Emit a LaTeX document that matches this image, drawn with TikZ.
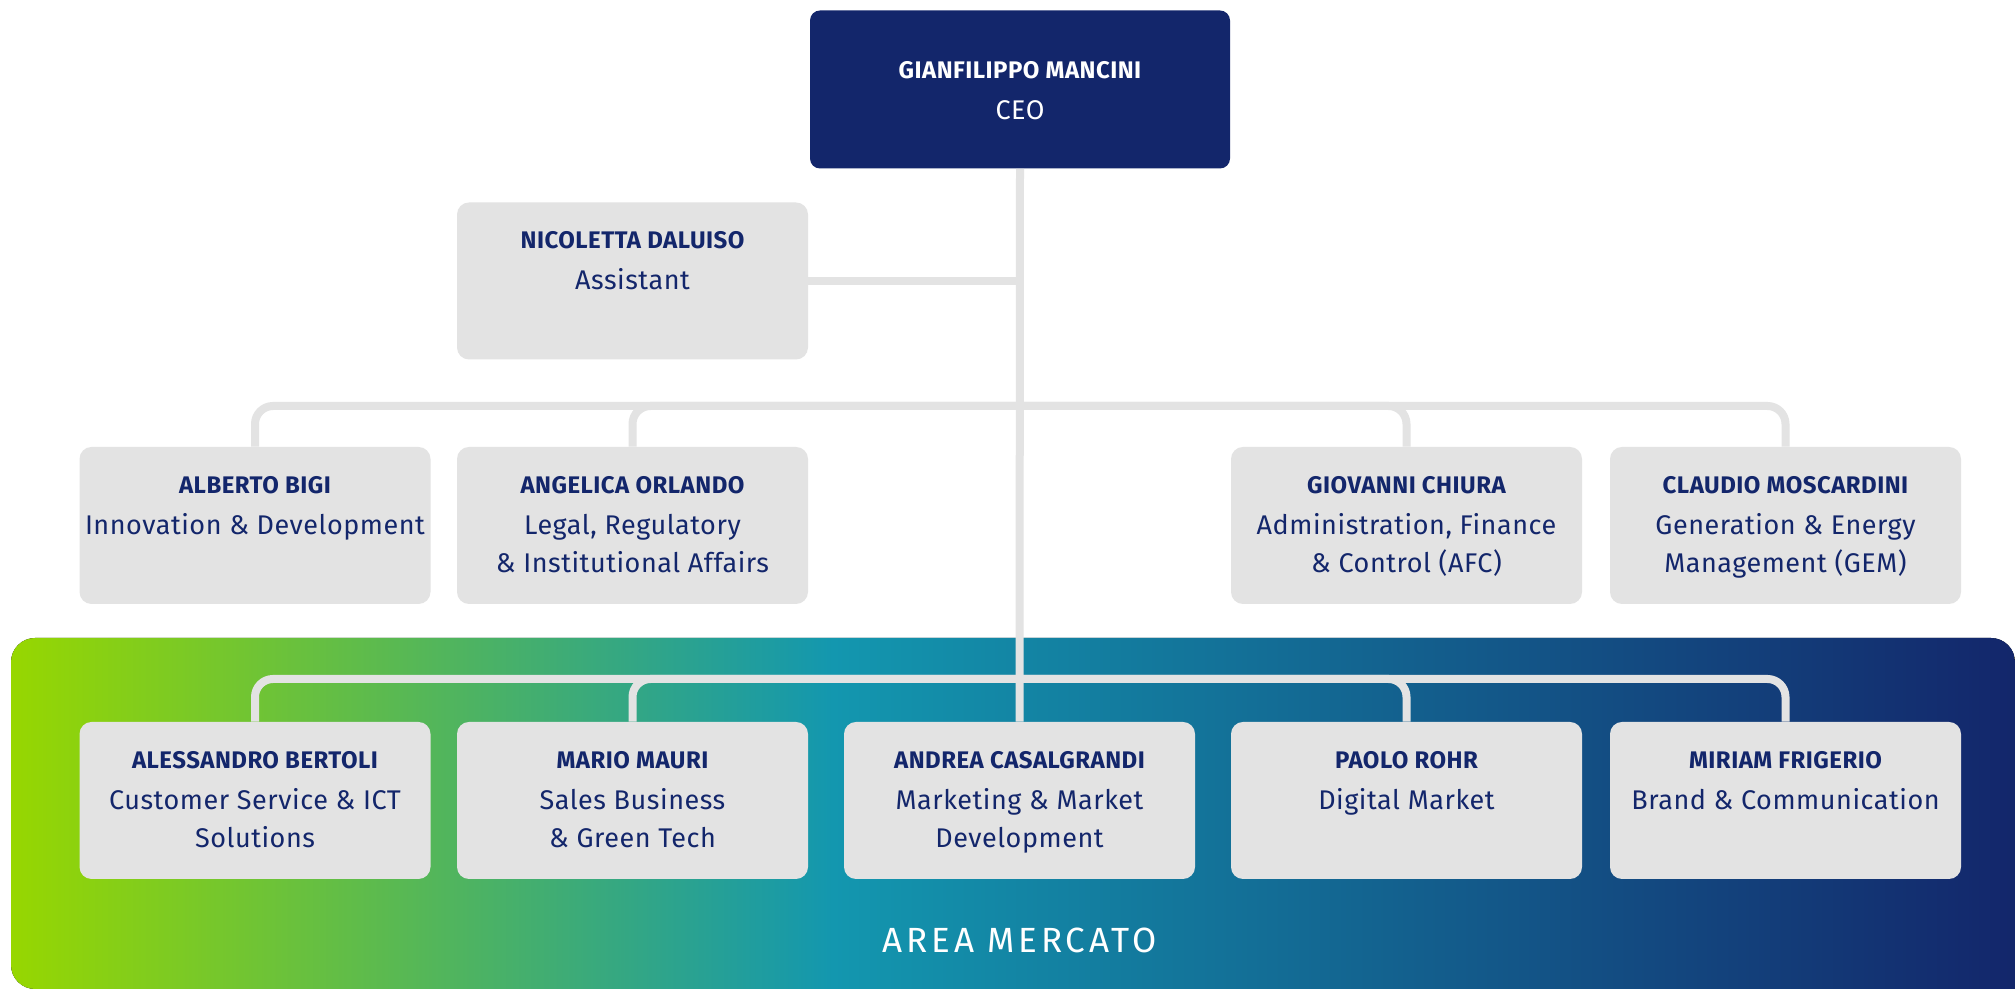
\documentclass[tikz,border=0pt]{standalone}
\usepackage{fontspec}
\setmainfont{Fira Sans}

\definecolor{navy}{RGB}{19,38,107}
\definecolor{boxgrey}{RGB}{227,227,227}
\definecolor{lime}{RGB}{151,215,0}
\definecolor{seateal}{RGB}{19,151,175}

\pgfdeclarehorizontalshading{mercato}{100bp}{color(0bp)=(lime); color(25bp)=(lime);
  color(45.5bp)=(seateal); color(75bp)=(navy); color(100bp)=(navy)}

\newcommand{\namestyle}{\fontsize{12}{19}\selectfont\bfseries\addfontfeature{LetterSpace=2}}
\newcommand{\rolestyle}{\fontsize{13.5}{19}\selectfont\mdseries}
% name on top, role below it
\newcommand{\who}[3][23pt]{\parbox[t][78pt][t]{175pt}{\centering\rule{0pt}{#1}\namestyle #2\\[1.5pt]\rolestyle #3\par}}

\tikzset{
  box/.style={fill=boxgrey, text=navy, rounded corners=6pt, inner sep=0pt,
    minimum width=175.5pt, minimum height=78.5pt},
  ceobox/.style={box, fill=navy, text=white, rounded corners=5pt,
    minimum width=210pt, minimum height=79pt},
  link/.style={draw=boxgrey, line width=4pt, rounded corners=9pt},
}

\begin{document}
\begin{tikzpicture}[x=50pt,y=50pt]

\fill[white] (0,0) rectangle (20.15,9.89);
\useasboundingbox (0,0) rectangle (20.15,9.89);

% area mercato band
\fill[shading=mercato]
  (20.15,0) [rounded corners=12pt] -- (0.11,0) -- (0.11,3.51) -- (20.15,3.51)
  [sharp corners] -- cycle;

\node[ceobox] (ceo) at (10.20,8.995) {\who[33.5pt]{GIANFILIPPO MANCINI}{CEO}};
\node[box] (daluiso) at (6.325,7.08) {\who{NICOLETTA DALUISO}{Assistant}};

\node[box] (bigi) at (2.55,4.635) {\who{ALBERTO BIGI}{Innovation \& Development}};
\node[box] (orlando) at (6.325,4.635) {\who{ANGELICA ORLANDO}{Legal, Regulatory\\\& Institutional Affairs}};
\node[box] (chiura) at (14.065,4.635) {\who{GIOVANNI CHIURA}{Administration, Finance\\\& Control (AFC)}};
\node[box] (moscardini) at (17.855,4.635) {\who{CLAUDIO MOSCARDINI}{Generation \& Energy\\Management (GEM)}};

\node[box] (bertoli) at (2.55,1.885) {\who{ALESSANDRO BERTOLI}{Customer Service \& ICT\\Solutions}};
\node[box] (mauri) at (6.325,1.885) {\who{MARIO MAURI}{Sales Business\\\& Green Tech}};
\node[box] (casalgrandi) at (10.195,1.885) {\who{ANDREA CASALGRANDI}{Marketing \& Market\\Development}};
\node[box] (rohr) at (14.065,1.885) {\who{PAOLO ROHR}{Digital Market}};
\node[box] (frigerio) at (17.855,1.885) {\who{MIRIAM FRIGERIO}{Brand \& Communication}};

\node[text=white, anchor=base, font=\fontsize{17.5}{20}\selectfont\addfontfeature{LetterSpace=11}] (area) at (10.195,0.36) {AREA MERCATO};

\coordinate (bus2) at (10.195,5.83);
\coordinate (bus3) at (10.195,3.10);

\draw[link] (ceo.south) -- (casalgrandi.north);
\draw[link] (daluiso.east) -- (daluiso.east -| ceo.south);

\draw[link] (bus2) -| (bigi.north);
\draw[link] (bus2) -| (orlando.north);
\draw[link] (bus2) -| (chiura.north);
\draw[link] (bus2) -| (moscardini.north);

\draw[link] (bus3) -| (bertoli.north);
\draw[link] (bus3) -| (mauri.north);
\draw[link] (bus3) -| (rohr.north);
\draw[link] (bus3) -| (frigerio.north);

\end{tikzpicture}
\end{document}
